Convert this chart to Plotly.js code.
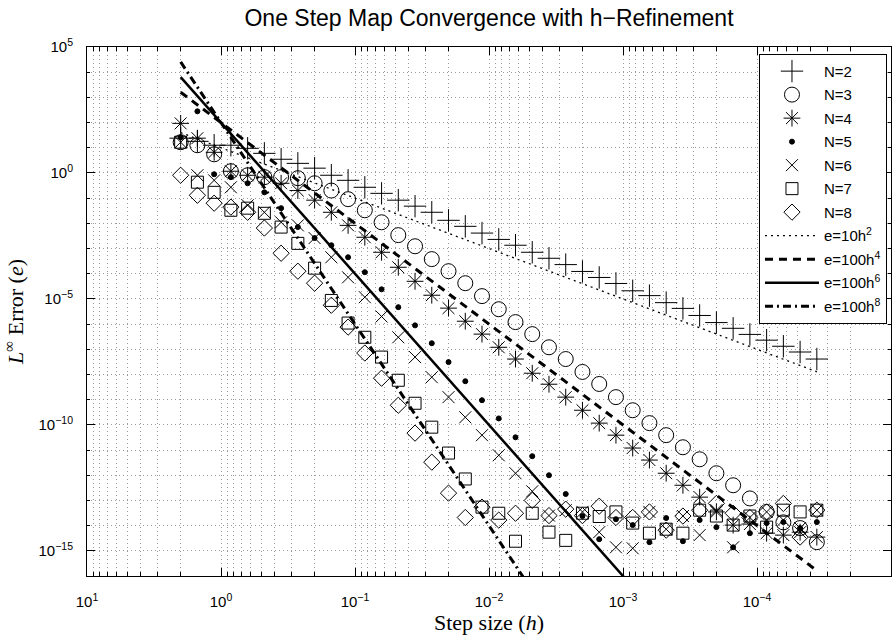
<!DOCTYPE html>
<html>
<head>
<meta charset="utf-8">
<script src="https://cdn.plot.ly/plotly-3.0.1.min.js"></script>
<style>html,body{margin:0;padding:0;background:#fff;}#chart{width:892px;height:641px;}</style>
</head>
<body>
<div id="chart"></div>
<script>
// Step sizes h (x values)
const stepSize = [2, 1.5, 1.125, 0.84375, 0.6328, 0.4746, 0.3560, 0.2670, 0.2002, 0.1502,
  0.1126, 0.08447, 0.06335, 0.04751, 0.03564, 0.02673, 0.02005, 0.01503, 0.01128, 0.008457,
  0.006342, 0.004757, 0.003568, 0.002676, 0.002007, 0.001505, 0.001129, 8.466e-4, 6.350e-4, 4.762e-4,
  3.572e-4, 2.679e-4, 2.009e-4, 1.507e-4, 1.130e-4, 8.476e-5, 6.357e-5, 4.768e-5, 3.576e-5];

const errN2 = [24, 18, 12.6, 12.6, 9.5, 6.0, 3.5, 2.4, 1.55, 0.81,
  0.51, 0.27, 0.155, 0.083, 0.048, 0.0275, 0.0132, 0.0076, 0.0041, 0.0023,
  0.00135, 7.1e-4, 4.1e-4, 2.3e-4, 1.23e-4, 7.1e-5, 4.1e-5, 2.1e-5, 1.35e-5, 7.1e-6,
  4.2e-6, 2.2e-6, 1.15e-6, 6.8e-7, 3.9e-7, 2.3e-7, 1.32e-7, 7.8e-8, 4.1e-8];

const errN3 = [16.6, 12.6, 5.5, 1.17, 0.81, 0.68, 0.68, 0.62, 0.39, 0.20,
  0.091, 0.033, 0.011, 0.0034, 0.00123, 3.8e-4, 1.26e-4, 4.2e-5, 1.29e-5, 3.9e-6,
  1.2e-6, 4.0e-7, 1.2e-7, 4.1e-8, 1.26e-8, 4.2e-9, 1.26e-9, 3.8e-10, 1.17e-10, 3.9e-11,
  1.29e-11, 4.3e-12, 1.2e-12, 4.0e-13, 1.2e-13, 3.5e-14, 1.35e-14, 8e-15, 2.2e-15];

const errN4 = [93, 24, 6.6, 1.17, 0.81, 0.68, 0.39, 0.20, 0.083, 0.0275,
  0.0083, 0.0028, 7.1e-4, 1.8e-4, 5.0e-5, 1.4e-5, 4.3e-6, 1.3e-6, 4.0e-7, 1.2e-7,
  4.1e-8, 1.12e-8, 4.1e-9, 1.26e-9, 3.8e-10, 1.17e-10, 3.9e-11, 1.2e-11, 4.0e-12, 1.2e-12,
  4.0e-13, 1.35e-13, 3.5e-14, 1.05e-14, 1.15e-14, 5.0e-15, 4.2e-15, 5.5e-15, 3.5e-15];

const errN5 = [26, 280, 0.89, 0.68, 0.39, 0.17, 0.040, 0.0071, 0.0026, 0.00135,
  4.5e-4, 1.15e-4, 2.4e-5, 4.7e-6, 8.9e-7, 1.74e-7, 3.1e-8, 5.4e-9, 9.5e-10, 1.8e-10,
  3.2e-11, 5.7e-12, 1.0e-12, 1.8e-13, 2.4e-14, 2.9e-15, 1.8e-14, 1.05e-14, 2.2e-15, 2.0e-14,
  2.4e-15, 1.66e-14, 8.7e-15, 1.38e-15, 5.0e-15, 1.26e-14, 1.38e-14, 8e-15, 1.38e-14];

const errN6 = [16.6, 0.81, 0.51, 0.27, 0.052, 0.0275, 0.011, 0.0083, 0.0026, 4.5e-4,
  7.2e-5, 1.17e-5, 2.0e-6, 3.0e-7, 4.9e-8, 7.8e-9, 1.26e-9, 2.0e-10, 3.9e-11, 6.2e-12,
  1.2e-12, 2.3e-13, 2.5e-14, 4.1e-14, 3.5e-14, 5.5e-15, 1.38e-15, 1.26e-15, 3.5e-14, 7.2e-15,
  2.4e-14, 4.2e-15, 4.1e-14, 1.38e-15, 2.1e-14, 3.5e-14, 1.66e-14, 8e-15, 4.1e-14];

const errN7 = [16.6, 0.43, 0.17, 0.033, 0.040, 0.025, 0.0071, 0.0016, 1.66e-4, 8.7e-6,
  1.1e-6, 3.0e-7, 4.9e-8, 5.9e-9, 7.2e-10, 8.1e-11, 7.6e-12, 7.1e-13, 5.4e-14, 3.1e-14,
  2.4e-15, 3.1e-14, 5.5e-15, 2.6e-15, 3.1e-14, 2.3e-14, 3.5e-14, 1.26e-14, 5.0e-15, 7.2e-15,
  5.0e-15, 4.1e-14, 2.4e-14, 1.05e-14, 2.4e-14, 8.7e-15, 4.1e-14, 3.5e-14, 4.1e-14];

const errN8 = [0.81, 0.13, 0.063, 0.044, 0.0275, 0.0065, 6.5e-4, 1.26e-4, 4.2e-5, 5.6e-6,
  7.6e-7, 7.1e-8, 7.1e-9, 6.0e-10, 4.7e-11, 3.3e-12, 1.95e-13, 2.1e-14, 5.4e-14, 1.66e-14,
  3.1e-14, 1.0e-13, 2.5e-14, 4.5e-14, 2.5e-14, 5.9e-14, 2.1e-14, 2.1e-14, 3.5e-14, 6.6e-15,
  2.4e-14, 4.1e-14, 7.6e-14, 3.1e-14, 2.1e-14, 3.5e-14, 7.6e-14, 3.5e-15, 4.1e-14];

const seriesNames = ['N=2', 'N=3', 'N=4', 'N=5', 'N=6', 'N=7', 'N=8'];
const seriesData = [errN2, errN3, errN4, errN5, errN6, errN7, errN8];
const seriesSymbols = ['cross-thin-open', 'circle-open', 'asterisk-open', 'circle', 'x-thin-open', 'square-open', 'diamond-open'];
const seriesSizes = [16, 15, 14, 5, 12, 12, 12.5];

// Reference rates e = C h^p
const refNames = ['e=10h<sup>2</sup>', 'e=100h<sup>4</sup>', 'e=100h<sup>6</sup>', 'e=100h<sup>8</sup>'];
const refCoef = [10, 100, 100, 100];
const refPower = [2, 4, 6, 8];
const refDash = ['2px,4px', '8px,6px', 'solid', '8px,4px,2px,4px'];
const refWidth = [1.3, 3, 2.5, 3];

const xTickVals = [10, 1, 0.1, 0.01, 0.001, 0.0001];
const xTickText = ['10<sup>1</sup>', '10<sup>0</sup>', '10<sup>\u22121</sup>', '10<sup>\u22122</sup>', '10<sup>\u22123</sup>', '10<sup>\u22124</sup>'];
const yTickVals = [1e5, 1, 1e-5, 1e-10, 1e-15];
const yTickText = ['10<sup>5</sup>', '10<sup>0</sup>', '10<sup>\u22125</sup>', '10<sup>\u221210</sup>', '10<sup>\u221215</sup>'];

const traces = [];
seriesNames.forEach((name, i) => {
  traces.push({
    x: stepSize, y: seriesData[i], name: name, type: 'scatter', mode: 'markers',
    legendgroup: 'g' + i,
    marker: {symbol: seriesSymbols[i], size: seriesSizes[i], color: '#000',
             line: {color: '#000', width: 1}}
  });
});
refNames.forEach((name, i) => {
  traces.push({
    x: stepSize, y: stepSize.map(h => refCoef[i] * Math.pow(h, refPower[i])),
    name: name, type: 'scatter', mode: 'lines', legendgroup: 'r' + i,
    line: {color: '#000', width: refWidth[i], dash: refDash[i]}
  });
});

const gridCol = '#9a9a9a';
const gridDash = '1px,3px';
const layout = {
  width: 892, height: 641,
  margin: {l: 87, r: 1, t: 47, b: 65},
  paper_bgcolor: '#fff', plot_bgcolor: '#fff',
  font: {family: 'Liberation Sans, Arial, sans-serif', size: 15, color: '#000'},
  title: {text: 'One Step Map Convergence with h\u2212Refinement', x: 0.5, xref: 'paper',
          y: 0.972, yanchor: 'middle', font: {size: 23, color: '#000'}},
  showlegend: true,
  legend: {x: 0.995, xanchor: 'right', y: 0.987, yanchor: 'top', bgcolor: '#fff',
           bordercolor: '#000', borderwidth: 1, font: {size: 15}, tracegroupgap: 1,
           itemwidth: 54},
  xaxis: {
    type: 'log', range: [1, -5], tickvals: xTickVals, ticktext: xTickText,
    ticks: 'inside', ticklen: 8, tickcolor: '#000', showline: true, linecolor: '#000', linewidth: 1,
    mirror: 'ticks', showgrid: true, gridcolor: gridCol, griddash: gridDash, gridwidth: 1,
    zeroline: false, ticklabelstandoff: 12,
    minor: {dtick: 'D1', ticks: 'inside', ticklen: 4, tickcolor: '#000', showgrid: true,
            gridcolor: gridCol, griddash: gridDash, gridwidth: 1},
    title: {text: 'Step size (<i>h</i>)', standoff: 4,
            font: {family: 'Liberation Serif, DejaVu Serif, serif', size: 22}}
  },
  yaxis: {
    type: 'log', range: [-16, 5], tickvals: yTickVals, ticktext: yTickText,
    ticks: 'inside', ticklen: 8, tickcolor: '#000', showline: true, linecolor: '#000', linewidth: 1,
    mirror: 'ticks', showgrid: true, gridcolor: gridCol, griddash: gridDash, gridwidth: 1,
    zeroline: false, ticklabelstandoff: 10,
    minor: {dtick: 1, ticks: 'inside', ticklen: 3, tickcolor: '#000', showgrid: true,
            gridcolor: gridCol, griddash: gridDash, gridwidth: 1},
    title: {text: '<i>L</i><sup>\u221e</sup> Error (<i>e</i>)', standoff: 10,
            font: {family: 'Liberation Serif, DejaVu Serif, serif', size: 22}}
  }
};

Plotly.newPlot('chart', traces, layout, {staticPlot: true, displayModeBar: false});
</script>
</body>
</html>
